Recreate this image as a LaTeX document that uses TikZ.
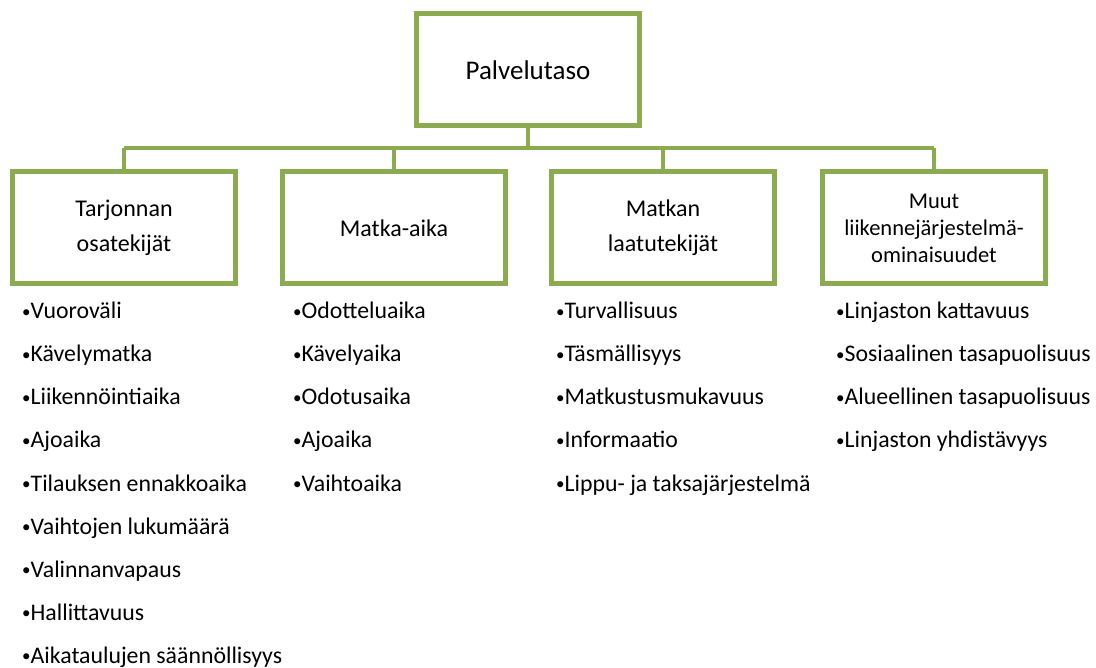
\documentclass[tikz,border=0pt]{standalone}
\usepackage{fontspec}
\setmainfont{Carlito}
\definecolor{olivegreen}{RGB}{140,170,80}
\newcommand{\blt}{\raisebox{1.5pt}{\fontsize{17}{17}\selectfont•}}
\begin{document}
\begin{tikzpicture}[x=1pt,y=-1pt,
  box/.style={draw=olivegreen, line width=5pt, fill=white, minimum width=223pt, minimum height=112pt, align=center, inner sep=0pt},
  conn/.style={draw=olivegreen, line width=4pt},
  item/.style={anchor=base west, inner sep=0pt, font=\fontsize{23.8}{28}\selectfont}
]
\useasboundingbox (0,0) rectangle (1096,668);
\coordinate (bus) at (528,148);
\node[box, font=\fontsize{27}{32}\selectfont] (top) at (528,70) {Palvelutaso};
\node[box, font=\fontsize{24}{35}\selectfont] (c1) at (124,228) {Tarjonnan\\osatekijät};
\node[box, font=\fontsize{24}{35}\selectfont] (c2) at (394,228) {Matka-aika};
\node[box, font=\fontsize{24}{35}\selectfont] (c3) at (663,228) {Matkan\\laatutekijät};
\node[box, font=\fontsize{22.5}{27}\selectfont] (c4) at (934,228) {Muut\\liikennejärjestelmä-\\ominaisuudet};
\draw[conn] (top.south) -- (bus);
\draw[conn] (c1.north |- bus) -- (c4.north |- bus);
\foreach \c in {c1,c2,c3,c4} \draw[conn] (\c.north) -- (\c.north |- bus);
\foreach \t [count=\i] in {Vuoroväli,Kävelymatka,Liikennöintiaika,Ajoaika,Tilauksen ennakkoaika,Vaihtojen lukumäärä,Valinnanvapaus,Hallittavuus,Aikataulujen säännöllisyys}
  \node[item] (a\i) at (22,{319+43*(\i-1)}) {\blt\t};
\foreach \t [count=\i] in {Odotteluaika,Kävelyaika,Odotusaika,Ajoaika,Vaihtoaika}
  \node[item] (b\i) at (293,{319+43*(\i-1)}) {\blt\t};
\foreach \t [count=\i] in {Turvallisuus,Täsmällisyys,Matkustusmukavuus,Informaatio,Lippu- ja taksajärjestelmä}
  \node[item] (d\i) at (556,{319+43*(\i-1)}) {\blt\t};
\foreach \t [count=\i] in {Linjaston kattavuus,Sosiaalinen tasapuolisuus,Alueellinen tasapuolisuus,Linjaston yhdistävyys}
  \node[item] (e\i) at (836,{319+43*(\i-1)}) {\blt\t};
\end{tikzpicture}
\end{document}
